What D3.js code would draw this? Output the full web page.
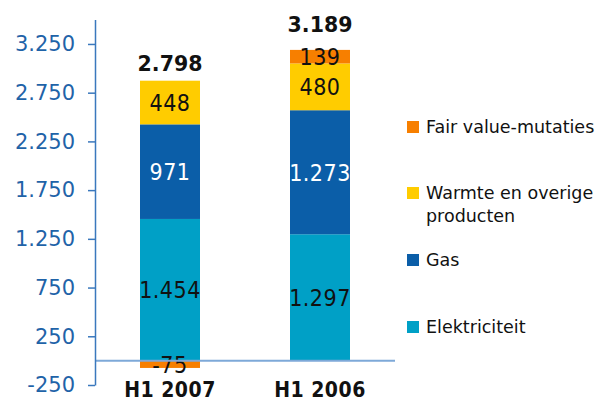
<!DOCTYPE html>
<html>
<head>
<meta charset="utf-8">
<script src="https://cdn.jsdelivr.net/npm/d3@7"></script>
<style>
  body { margin: 0; background: #fff; }
  svg { display: block; }
</style>
</head>
<body>
<svg width="599" height="403"></svg>
<script>
const width = 599;
const height = 403;

// Data (millions of euro)
const periods = ['H1 2007', 'H1 2006'];
const series = ['Elektriciteit', 'Gas', 'Warmte en overige producten', 'Fair value-mutaties'];
const elektriciteit = [1454, 1297];
const gas = [971, 1273];
const warmte = [448, 480];
const fairValue = [-75, 139];
const totals = [2798, 3189];
const tickValues = [-250, 250, 750, 1250, 1750, 2250, 2750, 3250];

const colors = ['#00a0c6', '#0b5ea8', '#ffcc00', '#f77f00'];
const labelColors = ['#111', '#fff', '#111', '#111'];

// Dutch number format: dot as thousands separator
const nl = d3.formatLocale({ decimal: ',', thousands: '.', grouping: [3], currency: ['€', ''], minus: '-' });
const fmt = nl.format(',d');

const rows = periods.map((p, i) => ({
    period: p,
    'Elektriciteit': elektriciteit[i],
    'Gas': gas[i],
    'Warmte en overige producten': warmte[i],
    'Fair value-mutaties': fairValue[i]
}));

const stacked = d3.stack()
    .keys(series)
    .offset(d3.stackOffsetDiverging)(rows);

const x = d3.scaleBand()
    .domain(periods)
    .range([95, 395])
    .paddingInner(0.6)
    .paddingOuter(0.3);

const y = d3.scaleLinear()
    .domain([-250, 3500])
    .range([385, 19.6]);

const svg = d3.select('svg');

// Segments
const layers = svg.selectAll('g.layer')
    .data(stacked)
    .enter().append('g')
    .attr('class', 'layer')
    .attr('fill', (d, i) => colors[i]);

layers.selectAll('rect')
    .data(d => d)
    .enter().append('rect')
    .attr('x', d => x(d.data.period))
    .attr('width', x.bandwidth())
    .attr('y', d => y(Math.max(d[0], d[1])))
    .attr('height', d => Math.abs(y(d[0]) - y(d[1])));

// Zero line
svg.append('line')
    .attr('x1', 95)
    .attr('x2', 395)
    .attr('y1', y(0))
    .attr('y2', y(0))
    .attr('stroke', '#7ea9d8')
    .attr('stroke-width', 2);

// Y axis
const yAxis = d3.axisLeft(y)
    .tickValues(tickValues)
    .tickFormat(fmt)
    .tickSize(7)
    .tickSizeOuter(0)
    .tickPadding(13);

const axisG = svg.append('g')
    .attr('transform', 'translate(95,0)')
    .call(yAxis);

axisG.select('.domain').attr('stroke', '#3a78bd').attr('stroke-width', 1.5);
axisG.selectAll('.tick line').attr('stroke', '#3a78bd').attr('stroke-width', 1.5);
axisG.selectAll('.tick text')
    .attr('fill', '#1f63a8')
    .style('font-family', '"DejaVu Sans", sans-serif')
    .style('font-size', '21px');

// Segment value labels
layers.each(function(layer, i) {
    d3.select(this).selectAll('text')
        .data(layer)
        .enter().append('text')
        .attr('x', d => x(d.data.period) + x.bandwidth() / 2)
        .attr('y', d => (y(d[0]) + y(d[1])) / 2)
        .attr('dy', '0.36em')
        .attr('text-anchor', 'middle')
        .attr('fill', labelColors[i])
        .style('font-family', '"DejaVu Sans Condensed", "DejaVu Sans", sans-serif')
        .style('font-size', '23px')
        .style('letter-spacing', '0.5px')
        .text(d => fmt(d.data[layer.key]));
});

// Totals
svg.selectAll('text.total')
    .data(periods)
    .enter().append('text')
    .attr('class', 'total')
    .attr('x', d => x(d) + x.bandwidth() / 2)
    .attr('y', (d, i) => y(totals[i]) - 17.5)
    .attr('text-anchor', 'middle')
    .attr('fill', '#111')
    .style('font-family', '"DejaVu Sans", sans-serif')
    .style('font-weight', 'bold')
    .style('font-size', '20.5px')
    .text((d, i) => fmt(totals[i]));

// Category labels
svg.selectAll('text.cat')
    .data(periods)
    .enter().append('text')
    .attr('class', 'cat')
    .attr('x', d => x(d) + x.bandwidth() / 2)
    .attr('y', 397)
    .attr('text-anchor', 'middle')
    .attr('fill', '#111')
    .style('font-family', '"DejaVu Sans Condensed", "DejaVu Sans", sans-serif')
    .style('font-weight', 'bold')
    .style('font-size', '21px')
    .style('letter-spacing', '0.5px')
    .text(d => d);

// Legend (top to bottom: reversed stack order)
const legendY = [121, 187, 254, 321];
const legendItems = series.slice().reverse();
const legend = svg.selectAll('g.legend')
    .data(legendItems)
    .enter().append('g')
    .attr('class', 'legend')
    .attr('transform', (d, i) => `translate(407,${legendY[i]})`);

legend.append('rect')
    .attr('width', 12)
    .attr('height', 12)
    .attr('fill', d => colors[series.indexOf(d)]);

legend.append('text')
    .attr('x', 19)
    .attr('y', 12)
    .attr('fill', '#111')
    .style('font-family', '"DejaVu Sans", sans-serif')
    .style('font-size', '17.5px')
    .each(function(d) {
        const t = d3.select(this);
        const lines = d === 'Warmte en overige producten' ? ['Warmte en overige', 'producten'] : [d];
        lines.forEach((l, j) => {
            t.append('tspan').attr('x', 19).attr('dy', j === 0 ? 0 : 23).text(l);
        });
    });
</script>
</body>
</html>
